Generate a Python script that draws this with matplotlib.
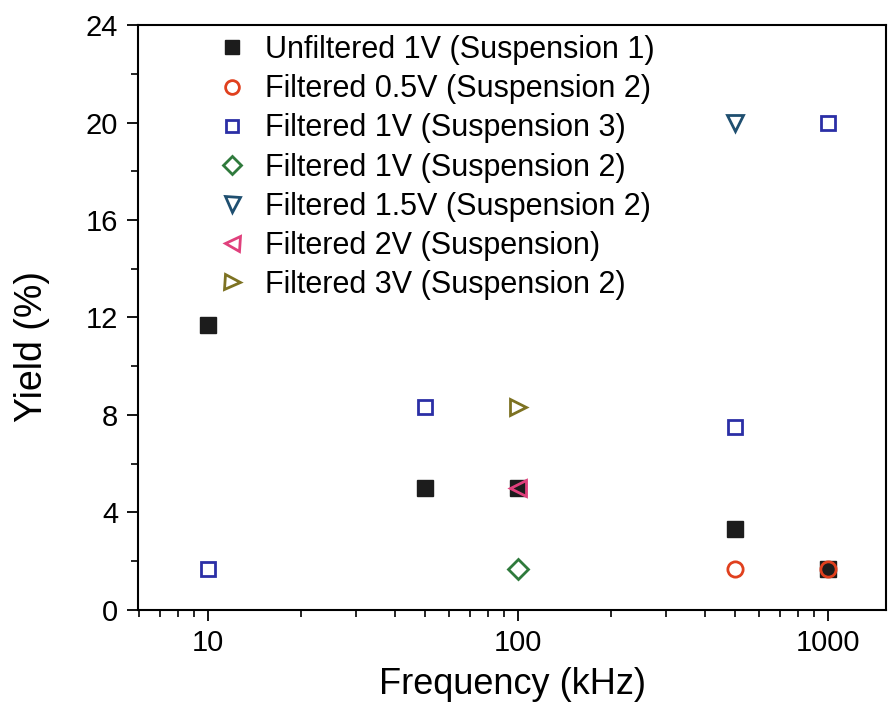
import matplotlib.pyplot as plt
from matplotlib.ticker import MultipleLocator, LogLocator, NullFormatter, FixedLocator

plt.rcParams['font.family'] = ['Liberation Sans', 'DejaVu Sans']

# Unfiltered 1V (Suspension 1)
unf_1v_x = [10, 50, 100, 500, 1000]
unf_1v_y = [11.67, 5.0, 5.0, 3.33, 1.67]
# Filtered 0.5V (Suspension 2)
f05_x = [500, 1000]
f05_y = [1.67, 1.67]
# Filtered 1V (Suspension 3)
f1_s3_x = [10, 50, 500, 1000]
f1_s3_y = [1.67, 8.33, 7.5, 20.0]
# Filtered 1V (Suspension 2)
f1_s2_x = [100]
f1_s2_y = [1.67]
# Filtered 1.5V (Suspension 2)
f15_x = [500]
f15_y = [20.0]
# Filtered 2V (Suspension)
f2_x = [100]
f2_y = [5.0]
# Filtered 3V (Suspension 2)
f3_x = [100]
f3_y = [8.33]

fig = plt.figure(figsize=(8.89, 7.19), dpi=100)
ax = fig.add_axes([0.155, 0.152, 0.842, 0.813])

ms = 11
mew = 2
ax.plot(unf_1v_x, unf_1v_y, 's', color='#1c1c1c', ms=ms, label='Unfiltered 1V (Suspension 1)')
ax.plot(f05_x, f05_y, 'o', mfc='none', mec='#e0401e', ms=ms, mew=mew, label='Filtered 0.5V (Suspension 2)')
ax.plot(f1_s3_x, f1_s3_y, 's', mfc='none', mec='#2b2fa6', ms=ms - 1, mew=mew, label='Filtered 1V (Suspension 3)')
ax.plot(f1_s2_x, f1_s2_y, 'D', mfc='none', mec='#2f7a3c', ms=ms - 1, mew=mew, label='Filtered 1V (Suspension 2)')
ax.plot(f15_x, f15_y, 'v', mfc='none', mec='#1f4f70', ms=ms + 1, mew=mew, label='Filtered 1.5V (Suspension 2)')
ax.plot(f2_x, f2_y, '<', mfc='none', mec='#e0407c', ms=ms + 1, mew=mew, label='Filtered 2V (Suspension)')
ax.plot(f3_x, f3_y, '>', mfc='none', mec='#7d7222', ms=ms + 1, mew=mew, label='Filtered 3V (Suspension 2)')

ax.set_xscale('log')
ax.set_xlim(5.95, 1540)
ax.set_ylim(0, 24)
ax.xaxis.set_major_locator(FixedLocator([10, 100, 1000]))
ax.xaxis.set_major_formatter(plt.FuncFormatter(lambda v, p: '%d' % v))
ax.xaxis.set_minor_locator(LogLocator(base=10, subs=range(2, 10)))
ax.xaxis.set_minor_formatter(NullFormatter())
ax.yaxis.set_major_locator(MultipleLocator(4))
ax.yaxis.set_minor_locator(MultipleLocator(2))

ax.tick_params(which='major', direction='out', length=8, width=1.3, labelsize=21, pad=6,
               top=False, right=False)
ax.tick_params(which='minor', direction='out', length=5, width=1.2, top=False, right=False)
for s in ax.spines.values():
    s.set_linewidth(1.5)

ax.set_xlabel('Frequency (kHz)', fontsize=26, labelpad=7)
ax.set_ylabel('Yield (%)', fontsize=27)
ax.yaxis.set_label_coords(-0.117, 0.45)

ax.legend(loc='upper left', bbox_to_anchor=(0.066, 1.03), frameon=False, fontsize=22,
          handletextpad=0.55, labelspacing=0.3, handlelength=1.1, markerscale=0.9)

fig.savefig('out.png', dpi=100)
